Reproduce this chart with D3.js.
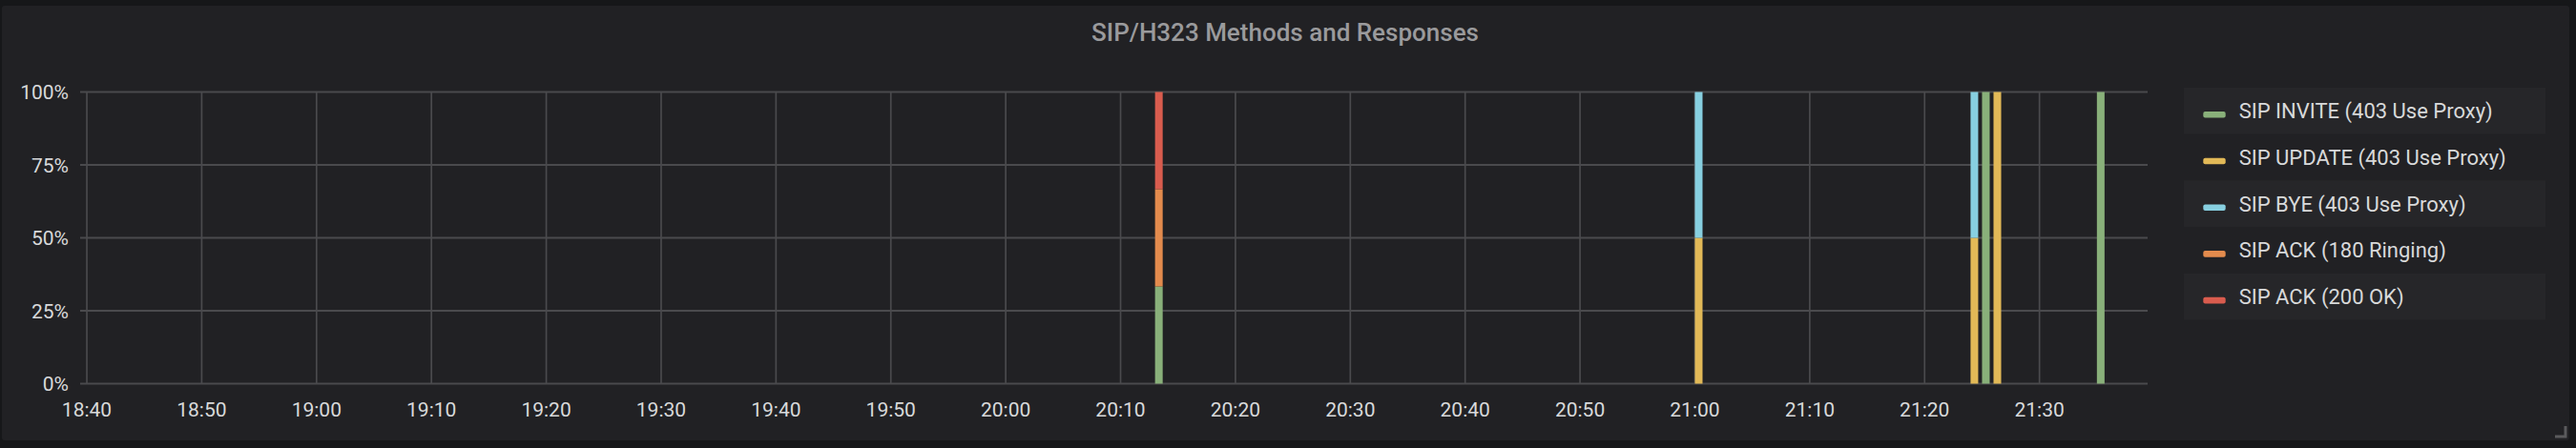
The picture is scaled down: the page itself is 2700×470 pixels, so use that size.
<!DOCTYPE html>
<html>
<head>
<meta charset="utf-8">
<script src="https://cdn.jsdelivr.net/npm/d3@7"></script>
<style>
  html, body { margin: 0; padding: 0; background: #161719; }
  svg { display: block; }
  text { font-family: Roboto, "Noto Sans", sans-serif; }
</style>
</head>
<body>
<svg id="chart" width="2700" height="470"></svg>
<script>
// ---- data ----
const title = "SIP/H323 Methods and Responses";
const times = ["20:13", "21:00", "21:24", "21:25", "21:26", "21:35"];
const seriesNames = [
  "SIP INVITE (403 Use Proxy)",
  "SIP UPDATE (403 Use Proxy)",
  "SIP BYE (403 Use Proxy)",
  "SIP ACK (180 Ringing)",
  "SIP ACK (200 OK)"
];
const seriesColors = ["#89b07a", "#e2b957", "#87cfe0", "#e38b4d", "#d95c4e"];
const inviteVals = [1, 0, 0, 1, 0, 1];
const updateVals = [0, 1, 1, 0, 1, 0];
const byeVals    = [0, 1, 1, 0, 0, 0];
const ack180Vals = [1, 0, 0, 0, 0, 0];
const ack200Vals = [1, 0, 0, 0, 0, 0];
const yTicks = [0, 25, 50, 75, 100];
const timeStart = "18:39:25";
const timeEnd = "21:39:25";

// ---- helpers ----
const day = [2020, 0, 1];
function toDate(s) {
  const p = s.split(":").map(Number);
  return new Date(day[0], day[1], day[2], p[0], p[1], p[2] || 0);
}
const valueSets = [inviteVals, updateVals, byeVals, ack180Vals, ack200Vals];
const table = times.map((t, i) => {
  const row = { t: toDate(t) };
  seriesNames.forEach((n, k) => row[n] = valueSets[k][i]);
  return row;
});

const svg = d3.select("#chart");

// panel
svg.append("rect").attr("x", 2).attr("y", 6).attr("width", 2691).attr("height", 456)
  .attr("rx", 3).attr("fill", "#212124");

svg.append("text").attr("x", 1347).attr("y", 43).attr("text-anchor", "middle")
  .attr("font-size", 26).attr("font-weight", 500).attr("fill", "#9a9a9c").text(title);

const x = d3.scaleTime().domain([toDate(timeStart), toDate(timeEnd)]).range([84, 2251]);
const y = d3.scaleLinear().domain([0, 100]).range([402.5, 96.5]);

const gridColor = "#4a4a4d";
const xTickVals = x.ticks(d3.timeMinute.every(10)).filter(d => x(d) > 86 && x(d) < 2249);

// horizontal grid
svg.append("g").selectAll("line").data(yTicks).join("line")
  .attr("x1", 84).attr("x2", 2251)
  .attr("y1", d => y(d)).attr("y2", d => y(d))
  .attr("stroke", gridColor).attr("stroke-width", 2);

// vertical grid
svg.append("g").selectAll("line").data(xTickVals).join("line")
  .attr("x1", d => x(d)).attr("x2", d => x(d))
  .attr("y1", y(100)).attr("y2", y(0))
  .attr("stroke", gridColor).attr("stroke-width", 1.7);

// y labels
svg.append("g").selectAll("text").data(yTicks).join("text")
  .attr("x", 72).attr("y", d => y(d)).attr("dy", "0.36em")
  .attr("text-anchor", "end").attr("font-size", 21).attr("fill", "#d8d9da")
  .text(d => d + "%");

// x labels
const fmt = d3.timeFormat("%H:%M");
svg.append("g").selectAll("text").data(xTickVals).join("text")
  .attr("x", d => x(d)).attr("y", 437)
  .attr("text-anchor", "middle").attr("font-size", 21).attr("fill", "#d8d9da")
  .text(d => fmt(d));

// stacked percent bars
const stack = d3.stack().keys(seriesNames).offset(d3.stackOffsetExpand);
const layers = stack(table);
const barW = d => x(new Date(+d + 40000)) - x(d);
const gBars = svg.append("g");
layers.forEach((layer, k) => {
  gBars.append("g").attr("fill", seriesColors[k])
    .selectAll("rect").data(layer.filter(d => d[1] - d[0] > 0)).join("rect")
    .attr("x", d => x(d.data.t))
    .attr("width", d => barW(d.data.t))
    .attr("y", d => y(d[1] * 100))
    .attr("height", d => y(d[0] * 100) - y(d[1] * 100));
});

// legend
const rowTop = 92, rowH = 48.7;
const lg = svg.append("g");
seriesNames.forEach((n, i) => {
  const top = rowTop + i * rowH;
  if (i % 2 === 0) {
    lg.append("rect").attr("x", 2289).attr("y", top).attr("width", 379).attr("height", rowH)
      .attr("fill", "#262629");
  }
  lg.append("rect").attr("x", 2309.3).attr("y", top + 25).attr("width", 23.4).attr("height", 6.6)
    .attr("rx", 2).attr("fill", seriesColors[i]);
  lg.append("text").attr("x", 2346.7).attr("y", top + 32.3)
    .attr("font-size", 22).attr("fill", "#d8d9da").text(n);
});

// resize handle
svg.append("path").attr("d", "M2689,447 L2689,458 L2678,458")
  .attr("fill", "none").attr("stroke", "#5a5a5c").attr("stroke-width", 3);
</script>
</body>
</html>
